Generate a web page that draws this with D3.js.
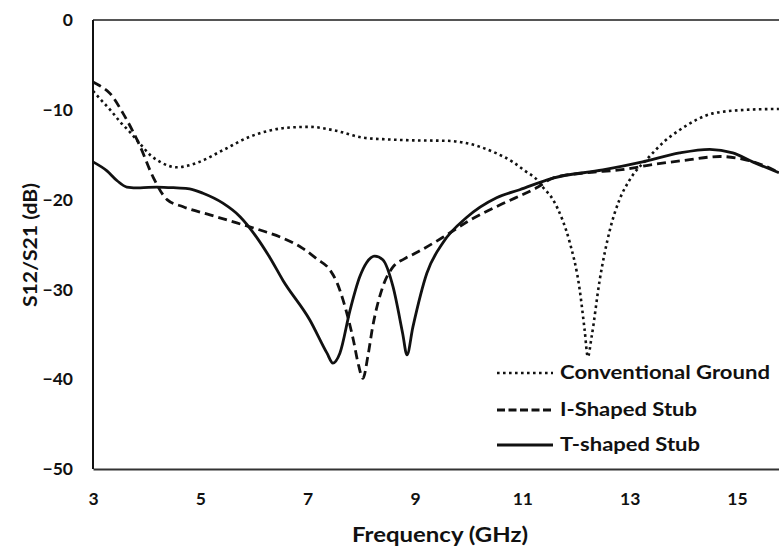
<!DOCTYPE html>
<html>
<head>
<meta charset="utf-8">
<script src="https://cdn.jsdelivr.net/npm/d3@7"></script>
<style>
  body { margin: 0; background: #fff; }
  svg { display: block; }
  text { font-family: Lato, "Open Sans", sans-serif; font-weight: bold; fill: #111; }
</style>
</head>
<body>
<div id="chart"></div>
<script>
// values: [frequency GHz, dB]
var conventional = [[3,-7.9],[3.15,-8.9],[3.32,-10.0],[3.5,-11.3],[3.69,-12.5],[3.88,-13.8],[4.06,-15.0],[4.25,-15.8],
  [4.56,-16.4],[4.94,-15.9],[5.42,-14.5],[5.92,-13.0],[6.3,-12.3],[6.61,-12.0],[7.04,-11.9],[7.5,-12.3],[8.03,-13.1],
  [8.5,-13.3],[8.96,-13.4],[9.59,-13.45],[10.2,-14.1],[10.5,-14.8],[10.82,-15.8],[11.05,-16.8],[11.29,-17.9],[11.38,-18.6],
  [11.57,-20.0],[11.75,-22.3],[11.88,-24.7],[12.07,-30.1],[12.16,-34.5],[12.22,-37.5],[12.29,-35.3],[12.44,-29],
  [12.63,-23.4],[12.81,-20.0],[13.0,-17.8],[13.37,-15.2],[13.65,-13.5],[13.93,-12.25],[14.25,-11.1],[14.55,-10.4],
  [15.18,-10.0],[15.78,-9.9]];

var iShaped = [[3,-6.9],[3.12,-7.3],[3.32,-8.2],[3.56,-10.4],[3.88,-14.1],[4.12,-17.5],[4.38,-20.0],[4.68,-20.8],
  [5.18,-21.7],[5.68,-22.6],[6.17,-23.5],[6.54,-24.3],[6.9,-25.4],[7.17,-26.6],[7.41,-27.8],[7.55,-29.3],[7.66,-31.2],
  [7.85,-35.6],[7.95,-38.5],[8.03,-39.9],[8.12,-37.5],[8.21,-34.2],[8.4,-29.7],[8.59,-27.5],[8.8,-26.6],[9.03,-25.9],
  [9.52,-24.2],[10.02,-22.3],[10.58,-20.6],[11.29,-18.6],[11.57,-17.6],[12.2,-17.0],[12.81,-16.7],[13.43,-16.1],
  [14.06,-15.6],[14.68,-15.2],[15.18,-15.6],[15.5,-16.2],[15.78,-17.0]];

var tShaped = [[3,-15.8],[3.26,-16.8],[3.45,-17.9],[3.63,-18.6],[3.88,-18.7],[4.19,-18.6],[4.56,-18.7],[4.8,-18.8],
  [5.05,-19.3],[5.42,-20.4],[5.74,-21.9],[6.05,-24.2],[6.3,-26.5],[6.54,-29.0],[7.04,-33.4],[7.36,-37.1],[7.47,-38.2],
  [7.6,-37.1],[7.79,-32.3],[7.97,-28.6],[8.1,-27.0],[8.25,-26.3],[8.4,-26.7],[8.59,-29.7],[8.77,-34.9],[8.85,-37.3],
  [8.96,-34.2],[9.22,-28.2],[9.52,-24.8],[9.96,-22.0],[10.52,-19.8],[10.95,-18.9],[11.57,-17.6],[12.5,-16.7],
  [13.24,-15.8],[13.93,-14.8],[14.49,-14.4],[14.92,-14.8],[15.29,-15.8],[15.78,-17.0]];

var xTicks = [3, 5, 7, 9, 11, 13, 15];
var yTicks = [0, -10, -20, -30, -40, -50];
var seriesNames = ["Conventional Ground", "I-Shaped Stub", "T-shaped Stub"];

var width = 779, height = 548;
var margin = { top: 20, left: 93, bottom: 79 };

var svg = d3.select("#chart").append("svg")
  .attr("width", width)
  .attr("height", height);

// chart is cut off at the right edge, the axis runs on to 16 GHz
var x = d3.scaleLinear().domain([3, 16]).range([margin.left, 790.7]);
var y = d3.scaleLinear().domain([-50, 0]).range([height - margin.bottom, margin.top]);

// top border of the plot
svg.append("line")
  .attr("x1", margin.left).attr("x2", width)
  .attr("y1", y(0)).attr("y2", y(0))
  .attr("stroke", "#555").attr("stroke-width", 2);

var xAxis = svg.append("g")
  .attr("transform", "translate(0," + y(-50) + ")")
  .call(d3.axisBottom(x).tickValues(xTicks).tickSize(0).tickFormat(d3.format("d")));
xAxis.select(".domain").attr("stroke", "#333").attr("stroke-width", 2);
xAxis.selectAll("text").attr("y", 36).attr("dy", 0).style("font-size", "17.5px");

var yAxis = svg.append("g")
  .attr("transform", "translate(" + x(3) + ",0)")
  .call(d3.axisLeft(y).tickValues(yTicks).tickSize(0).tickPadding(20));
yAxis.select(".domain").attr("stroke", "#111").attr("stroke-width", 2);
yAxis.selectAll("text").style("font-size", "17.5px");
yAxis.selectAll("path.domain").attr("d", "M0," + y(-50) + "V" + y(0));

// axis titles
svg.append("text")
  .attr("x", 440).attr("y", 542)
  .attr("text-anchor", "middle")
  .attr("textLength", 176).attr("lengthAdjust", "spacingAndGlyphs")
  .style("font-size", "20px")
  .text("Frequency (GHz)");

svg.append("text")
  .attr("transform", "translate(37,245) rotate(-90)")
  .attr("text-anchor", "middle")
  .attr("textLength", 124).attr("lengthAdjust", "spacingAndGlyphs")
  .style("font-size", "18px")
  .text("S12/S21 (dB)");

var line = d3.line()
  .x(function (d) { return x(d[0]); })
  .y(function (d) { return y(d[1]); })
  .curve(d3.curveMonotoneX);

var styles = [
  { data: conventional, dash: "2.6 3.4", w: 2.6 },
  { data: iShaped, dash: "9 5", w: 2.8 },
  { data: tShaped, dash: null, w: 2.8 }
];

styles.forEach(function (s) {
  svg.append("path")
    .datum(s.data)
    .attr("fill", "none")
    .attr("stroke", "#111")
    .attr("stroke-width", s.w)
    .attr("stroke-dasharray", s.dash)
    .attr("d", line);
});

// legend
var legendY = [373, 410, 445];
var legendLen = [210, 137, 140];
var legend = svg.append("g");
seriesNames.forEach(function (name, i) {
  legend.append("line")
    .attr("x1", 497).attr("x2", 553)
    .attr("y1", legendY[i]).attr("y2", legendY[i])
    .attr("stroke", "#111")
    .attr("stroke-width", styles[i].w)
    .attr("stroke-dasharray", i == 1 ? "8 3.5" : styles[i].dash);
  legend.append("text")
    .attr("x", 560).attr("y", legendY[i] + 6)
    .attr("textLength", legendLen[i]).attr("lengthAdjust", "spacingAndGlyphs")
    .style("font-size", "19px")
    .text(name);
});
</script>
</body>
</html>
